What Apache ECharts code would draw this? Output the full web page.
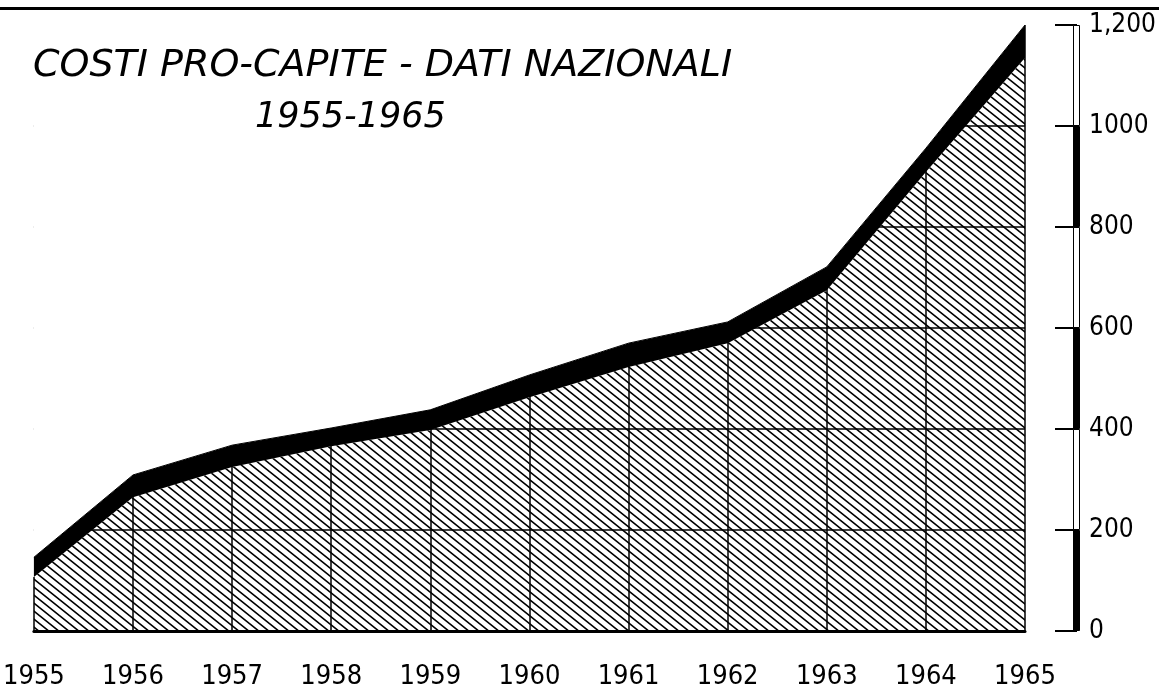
<!DOCTYPE html>
<html>
<head>
<meta charset="utf-8">
<script src="https://cdn.jsdelivr.net/npm/echarts@6/dist/echarts.min.js"></script>
<style>
  html, body { margin: 0; padding: 0; background: #fff; }
  #chart { width: 1159px; height: 690px; }
</style>
</head>
<body>
<div id="chart"></div>
<script>
// anni sull'asse orizzontale
const years = ['1955', '1956', '1957', '1958', '1959', '1960', '1961', '1962', '1963', '1964', '1965']
// parte tratteggiata (valore inferiore)
const hatchValues = [107, 265, 325, 366, 398, 463, 523, 570, 675, 909, 1135]
// bordo superiore della fascia nera
const totalValues = [146, 309, 368, 402, 438, 507, 570, 612, 721, 956, 1200]
// tacche asse destro
const yTicks = [0, 200, 400, 600, 800, 1000, 1200]
const yTickLabels = ['0', '200', '400', '600', '800', '1000', '1,200']

const yMax = yTicks[yTicks.length - 1]

// pattern a righe oblique
function hatchPattern() {
  const c = document.createElement('canvas')
  c.width = 10
  c.height = 8
  const ctx = c.getContext('2d')
  ctx.strokeStyle = '#000'
  ctx.lineWidth = 1.6
  ctx.beginPath()
  ctx.moveTo(-10, -8); ctx.lineTo(20, 16)
  ctx.moveTo(-20, -8); ctx.lineTo(10, 16)
  ctx.moveTo(0, -8); ctx.lineTo(30, 16)
  ctx.stroke()
  return c
}

const bandValues = totalValues.map((v, i) => v - hatchValues[i])
const fillerValues = totalValues.map(v => yMax - v)

// barra graduata dell'asse (segmenti alterni nero / bianco)
const scaleSeries = yTicks.slice(1).map((t, i) => ({
  type: 'bar',
  xAxisIndex: 1,
  yAxisIndex: 1,
  stack: 'scala',
  barWidth: '100%',
  data: [t - yTicks[i]],
  itemStyle: {
    color: i % 2 === 0 ? '#000' : '#fff',
    borderColor: '#000',
    borderWidth: 1
  },
  silent: true
}))

const chart = echarts.init(document.getElementById('chart'))

const titleFont = { fontFamily: 'DejaVu Sans', fontStyle: 'italic', fontWeight: 'normal', color: '#000' }

const option = {
  backgroundColor: '#fff',
  animation: false,
  title: [
    {
      text: 'COSTI PRO-CAPITE - DATI NAZIONALI',
      left: 33,
      top: 47,
      padding: 0,
      textStyle: Object.assign({ fontSize: 38 }, titleFont)
    },
    {
      text: '1955-1965',
      left: 255,
      top: 100,
      padding: 0,
      textStyle: Object.assign({ fontSize: 35 }, titleFont)
    }
  ],
  graphic: [
    {
      type: 'line',
      shape: { x1: 0, y1: 8.5, x2: 1159, y2: 8.5 },
      style: { stroke: '#000', lineWidth: 3 }
    }
  ],
  grid: [
    { left: 33, right: 134, top: 25, bottom: 59 },
    { left: 1073, width: 7, top: 25, bottom: 59 }
  ],
  xAxis: [
    {
      type: 'category',
      data: years,
      boundaryGap: false,
      axisLine: { lineStyle: { color: '#000', width: 3 } },
      axisTick: { show: false },
      axisLabel: {
        margin: 32,
        color: '#000',
        fontSize: 27,
        fontFamily: 'Liberation Sans Narrow, DejaVu Sans Condensed, sans-serif'
      },
      splitLine: { show: true, showMinLine: false, lineStyle: { color: '#000', width: 1.5 } }
    },
    {
      type: 'category',
      gridIndex: 1,
      data: ['s'],
      show: false
    }
  ],
  yAxis: [
    {
      type: 'value',
      position: 'right',
      offset: 52,
      min: 0,
      max: yMax,
      interval: 200,
      axisLine: { show: false },
      axisTick: { show: true, inside: true, length: 22, lineStyle: { color: '#000', width: 2 } },
      axisLabel: {
        margin: 12,
        color: '#000',
        fontSize: 26,
        fontFamily: 'DejaVu Sans Condensed, DejaVu Sans, sans-serif',
        formatter: v => yTickLabels[yTicks.indexOf(v)]
      },
      splitLine: { show: true, showMaxLine: false, lineStyle: { color: '#000', width: 1.5 } }
    },
    {
      type: 'value',
      gridIndex: 1,
      min: 0,
      max: yMax,
      show: false
    }
  ],
  series: [
    {
      name: 'tratteggio',
      type: 'line',
      stack: 'costi',
      data: hatchValues,
      symbol: 'none',
      lineStyle: { width: 0 },
      areaStyle: { color: { image: hatchPattern(), repeat: 'repeat' }, opacity: 1 },
      // bordo sinistro della zona tratteggiata
      markLine: {
        silent: true,
        symbol: 'none',
        label: { show: false },
        lineStyle: { color: '#000', width: 1.5, type: 'solid' },
        data: [[{ coord: [years[0], 0] }, { coord: [years[0], hatchValues[0]] }]]
      },
      silent: true
    },
    {
      name: 'fascia',
      type: 'line',
      stack: 'costi',
      data: bandValues,
      symbol: 'none',
      lineStyle: { width: 1, color: '#000' },
      areaStyle: { color: '#000', opacity: 1 },
      silent: true
    },
    {
      name: 'sfondo',
      type: 'line',
      stack: 'costi',
      data: fillerValues,
      symbol: 'none',
      lineStyle: { width: 0 },
      areaStyle: { color: '#fff', opacity: 1 },
      silent: true
    },
    ...scaleSeries
  ]
}

chart.setOption(option)
</script>
</body>
</html>
